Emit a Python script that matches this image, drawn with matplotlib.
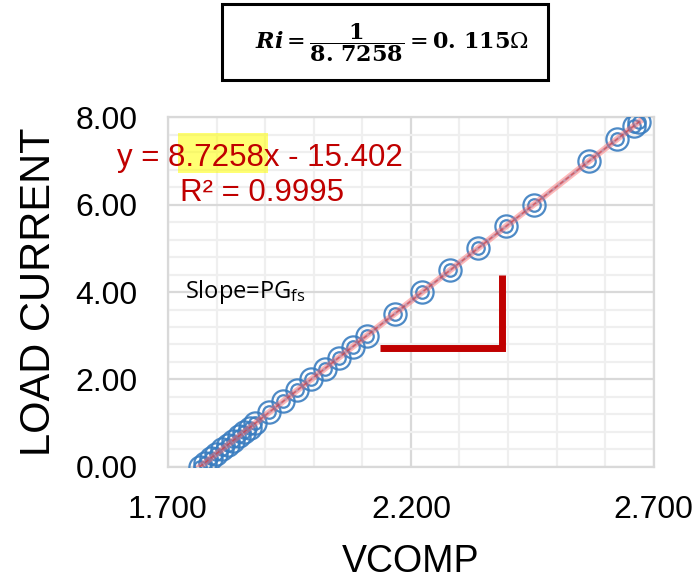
import matplotlib
matplotlib.use("Agg")
import matplotlib.pyplot as plt
from matplotlib.patches import Rectangle
from matplotlib.ticker import MultipleLocator, FormatStrFormatter

plt.rcParams['font.family'] = ['Liberation Sans', 'DejaVu Sans']
plt.rcParams['mathtext.fontset'] = 'dejavuserif'

vcomp = [1.7651, 1.7766, 1.7882, 1.7995, 1.8108, 1.8226, 1.8339, 1.8452, 1.8570, 1.8683,
         1.8795, 1.9086, 1.9370, 1.9655, 1.9945, 2.0230, 2.0515, 2.0805, 2.1090, 2.1665,
         2.2236, 2.2810, 2.3380, 2.3955, 2.4530, 2.5672, 2.6248, 2.6590, 2.6705]
load_current = [0.00, 0.10, 0.20, 0.30, 0.40, 0.50, 0.60, 0.70, 0.80, 0.90,
                1.00, 1.25, 1.50, 1.75, 2.00, 2.25, 2.50, 2.75, 3.00, 3.50,
                4.00, 4.50, 5.00, 5.50, 6.00, 7.00, 7.50, 7.80, 7.90]
x_ticks = [1.7, 2.2, 2.7]
y_ticks = [0, 2, 4, 6, 8]
slope = 8.7258
intercept = -15.402
r2 = 0.9995

fig = plt.figure(figsize=(7, 5.8), dpi=100)
ax = fig.add_axes([0.24, 0.195, 0.694, 0.603])

ax.set_xlim(1.7, 2.7)
ax.set_ylim(0, 8)
ax.set_xticks(x_ticks)
ax.set_yticks(y_ticks)
ax.xaxis.set_minor_locator(MultipleLocator(0.1))
ax.yaxis.set_minor_locator(MultipleLocator(0.4))
ax.xaxis.set_major_formatter(FormatStrFormatter('%.3f'))
ax.yaxis.set_major_formatter(FormatStrFormatter('%.2f'))
ax.grid(which='major', color='#D9D9D9', lw=1.6)
ax.grid(which='minor', color='#EFEFEF', lw=1.6)
ax.set_axisbelow(True)
for s in ax.spines.values():
    s.set_color('#D9D9D9')
    s.set_linewidth(1.6)
ax.tick_params(which='both', length=0, labelsize=23)
ax.tick_params(axis='x', pad=20)
ax.tick_params(axis='y', pad=22)

# series line and markers
ax.plot(vcomp, load_current, color='#9DC3E6', lw=2, zorder=2)
ax.plot(vcomp, load_current, 'o', ms=16, mfc='none', mec='#3A7DC0', mew=1.6, alpha=0.9, zorder=3)
ax.plot(vcomp, load_current, 'o', ms=9, mfc='none', mec='#3A7DC0', mew=1.6, alpha=0.9, zorder=3)
# trend line
tx = [vcomp[0], vcomp[-1]]
ty = [slope * v + intercept for v in tx]
ax.plot(tx, ty, color='#FF6666', lw=4.5, alpha=0.45, zorder=4)
ax.plot(tx, ty, color='#E03030', lw=1, alpha=0.6, ls=(0, (3, 2)), zorder=4)

ax.set_xlabel('VCOMP', fontsize=27, labelpad=14)
ax.set_ylabel('LOAD CURRENT', fontsize=30, labelpad=12)

# L-shaped slope marker
ax.plot([2.136, 2.387, 2.387], [2.72, 2.72, 4.40], color='#C00000', lw=5,
        solid_joinstyle='miter', solid_capstyle='butt', zorder=5)

ax.text(1.735, 4.0, r'Slope=PG$_{\mathregular{fs}}$', fontsize=17, family='Open Sans',
        va='center', ha='left', zorder=6)

# highlight + trendline equation
fig.patches.append(Rectangle((178 / 700, 1 - 173 / 580), 90 / 700, 40 / 580,
                             transform=fig.transFigure, facecolor='#FFFF00', alpha=0.55,
                             edgecolor='none', zorder=5))
fig.text(117 / 700, 1 - 158 / 580, f'y = {slope}x - {abs(intercept)}', color='#C00000',
         fontsize=22.5, ha='left', va='center', zorder=6)
fig.text(180 / 700, 1 - 193 / 580, f'R² = {r2}', color='#C00000',
         fontsize=22.5, ha='left', va='center', zorder=6)

# top box with equation
fig.patches.append(Rectangle((222 / 700, 1 - 80 / 580), 326 / 700, 76 / 580,
                             transform=fig.transFigure, facecolor='white',
                             edgecolor='black', lw=2.2))
fig.text(392 / 700, 1 - 43 / 580,
         r'$\mathbfit{Ri} = \dfrac{\mathbf{1}}{\mathbf{8.\,7258}} = \mathbf{0.\,115}\Omega$',
         fontsize=16, ha='center', va='center')

fig.savefig('out.png', dpi=100)
